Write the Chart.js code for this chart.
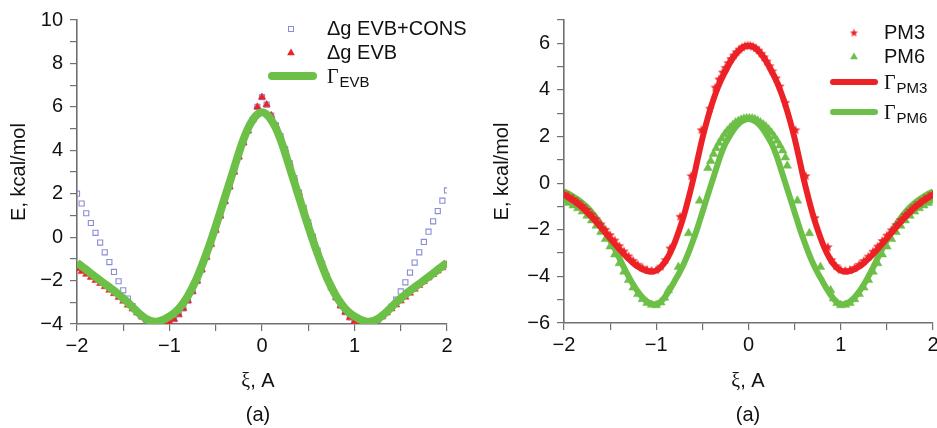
<!DOCTYPE html>
<html lang="en">
<head>
<meta charset="UTF-8">
<title>Free energy profiles</title>
<script src="https://cdn.jsdelivr.net/npm/chart.js@4.4.1/dist/chart.umd.min.js"></script>
<style>
  html, body { margin: 0; padding: 0; background: #fff; }
  body { width: 937px; height: 428px; overflow: hidden; position: relative;
         font-family: "Liberation Sans", Arial, sans-serif; }
  canvas { position: absolute; top: 0; }
  #leftChart { left: 0; }
  #rightChart { left: 470px; }
  .caption { position: absolute; width: 200px; text-align: center; font-size: 20px;
             line-height: 24px; color: #111; }
  .greek { font-family: "Liberation Serif", serif; }
</style>
</head>
<body>
<canvas id="leftChart" width="480" height="428"></canvas>
<canvas id="rightChart" width="480" height="428"></canvas>
<div class="caption" style="left:158px; top:368px"><span class="greek">ξ</span>, A</div>
<div class="caption" style="left:158px; top:402px">(a)</div>
<div class="caption" style="left:648px; top:368px"><span class="greek">ξ</span>, A</div>
<div class="caption" style="left:648px; top:402px">(a)</div>
<script>
// reaction coordinate grid, A
var gridX = [-2, -1.95, -1.9, -1.85, -1.8, -1.75, -1.7, -1.65, -1.6, -1.55, -1.5, -1.45, -1.4, -1.35, -1.3, -1.25, -1.2, -1.15, -1.1, -1.05,
  -1, -0.95, -0.9, -0.85, -0.8, -0.75, -0.7, -0.65, -0.6, -0.55, -0.5, -0.45, -0.4, -0.35, -0.3, -0.25, -0.2, -0.15, -0.1, -0.05,
  0, 0.05, 0.1, 0.15, 0.2, 0.25, 0.3, 0.35, 0.4, 0.45, 0.5, 0.55, 0.6, 0.65, 0.7, 0.75, 0.8, 0.85, 0.9, 0.95,
  1, 1.05, 1.1, 1.15, 1.2, 1.25, 1.3, 1.35, 1.4, 1.45, 1.5, 1.55, 1.6, 1.65, 1.7, 1.75, 1.8, 1.85, 1.9, 1.95, 2];

// left panel, kcal/mol
var gammaEvb = [-1.18, -1.34, -1.5, -1.67, -1.83, -1.99, -2.15, -2.31, -2.47, -2.64, -2.82, -3.01, -3.22, -3.43, -3.62, -3.77, -3.87, -3.9, -3.85, -3.77,
  -3.65, -3.5, -3.3, -3.03, -2.7, -2.3, -1.85, -1.32, -0.75, -0.14, 0.5, 1.17, 1.85, 2.52, 3.2, 3.88, 4.5, 5.02, 5.4, 5.65,
  5.75, 5.65, 5.4, 5.02, 4.5, 3.88, 3.2, 2.52, 1.85, 1.17, 0.5, -0.14, -0.75, -1.32, -1.85, -2.3, -2.7, -3.03, -3.3, -3.5,
  -3.65, -3.77, -3.85, -3.9, -3.87, -3.77, -3.62, -3.43, -3.22, -3.01, -2.82, -2.64, -2.47, -2.31, -2.15, -1.99, -1.83, -1.67, -1.5, -1.34, -1.18];

var dgEvb = [-1.45, -1.58, -1.71, -1.85, -1.99, -2.13, -2.28, -2.44, -2.6, -2.77, -2.95, -3.13, -3.31, -3.48, -3.65, -3.8, -3.92, -4.0, -4.03, -4.01,
  -3.93, -3.78, -3.56, -3.28, -2.92, -2.5, -2.02, -1.5, -0.92, -0.32, 0.32, 0.98, 1.65, 2.32, 3.0, 3.7, 4.35, 4.9, 5.4, 6.0,
  6.45, 6.1, 5.6, 5.15, 4.65, 4.05, 3.4, 2.72, 2.05, 1.35, 0.68, 0.02, -0.62, -1.22, -1.8, -2.32, -2.78, -3.15, -3.45, -3.7,
  -3.88, -3.98, -4.02, -4.0, -3.92, -3.8, -3.65, -3.48, -3.3, -3.12, -2.94, -2.76, -2.58, -2.4, -2.22, -2.05, -1.88, -1.72, -1.56, -1.41, -1.27];

var dgEvbCons = [2.0, 1.55, 1.1, 0.65, 0.2, -0.25, -0.7, -1.15, -1.6, -2.03, -2.45, -2.83, -3.17, -3.45, -3.66, -3.82, -3.93, -4.0, -4.03, -4.01,
  -3.93, -3.78, -3.56, -3.28, -2.92, -2.5, -2.02, -1.5, -0.92, -0.32, 0.32, 0.98, 1.65, 2.32, 3.0, 3.7, 4.35, 4.9, 5.4, 6.0,
  6.45, 6.1, 5.6, 5.15, 4.65, 4.05, 3.4, 2.72, 2.05, 1.35, 0.68, 0.02, -0.62, -1.22, -1.8, -2.32, -2.78, -3.15, -3.45, -3.7,
  -3.88, -3.98, -4.02, -4.0, -3.9, -3.8, -3.65, -3.45, -3.2, -2.88, -2.5, -2.08, -1.63, -1.17, -0.7, -0.22, 0.25, 0.73, 1.2, 1.68, 2.15];

// right panel fitted profiles, kcal/mol
var gammaPm3 = [-0.5, -0.62, -0.75, -0.9, -1.06, -1.25, -1.45, -1.67, -1.9, -2.13, -2.37, -2.6, -2.83, -3.05, -3.25, -3.43, -3.58, -3.7, -3.77, -3.8,
  -3.75, -3.6, -3.35, -3.0, -2.55, -2.0, -1.38, -0.65, 0.15, 1.05, 1.92, 2.68, 3.35, 3.92, 4.4, 4.8, 5.17, 5.47, 5.7, 5.85,
  5.9, 5.85, 5.7, 5.47, 5.17, 4.8, 4.4, 3.92, 3.35, 2.68, 1.92, 1.05, 0.15, -0.65, -1.38, -2.0, -2.55, -3.0, -3.35, -3.6,
  -3.75, -3.8, -3.77, -3.7, -3.58, -3.43, -3.25, -3.05, -2.83, -2.6, -2.37, -2.13, -1.9, -1.67, -1.45, -1.25, -1.06, -0.9, -0.75, -0.62, -0.5];

var gammaPm6 = [-0.35, -0.45, -0.57, -0.7, -0.85, -1.03, -1.25, -1.5, -1.78, -2.1, -2.45, -2.82, -3.22, -3.62, -4.0, -4.35, -4.65, -4.9, -5.08, -5.18,
  -5.2, -5.08, -4.85, -4.55, -4.2, -3.85, -3.45, -2.98, -2.45, -1.88, -1.25, -0.62, 0.0, 0.62, 1.22, 1.7, 2.05, 2.35, 2.57, 2.7,
  2.75, 2.7, 2.57, 2.35, 2.05, 1.7, 1.22, 0.62, 0.0, -0.62, -1.25, -1.88, -2.45, -2.98, -3.45, -3.85, -4.2, -4.55, -4.85, -5.08,
  -5.2, -5.18, -5.08, -4.9, -4.65, -4.35, -4.0, -3.62, -3.22, -2.82, -2.45, -2.1, -1.78, -1.5, -1.25, -1.03, -0.85, -0.7, -0.57, -0.45, -0.35];

// sampled PM3 energies
var pm3X = [-2, -1.95, -1.9, -1.85, -1.8, -1.75, -1.7, -1.65, -1.6, -1.55, -1.5, -1.45, -1.4, -1.35, -1.3, -1.25, -1.2, -1.15, -1.1, -1.05,
  -1, -0.95, -0.9, -0.85, -0.74, -0.62, -0.51, -0.42, -0.36, -0.32, -0.28, -0.25, -0.22, -0.19, -0.16, -0.13, -0.1, -0.07, -0.04, -0.01,
  0.02, 0.05, 0.08, 0.11, 0.14, 0.17, 0.2, 0.23, 0.26, 0.3, 0.34, 0.4, 0.51, 0.62, 0.72, 0.86,
  0.9, 0.95, 1, 1.05, 1.1, 1.15, 1.2, 1.25, 1.3, 1.35, 1.4, 1.45, 1.5, 1.55, 1.6, 1.65, 1.7, 1.75, 1.8, 1.85, 1.9, 1.95, 2];
var pm3Y = [-0.45, -0.57, -0.68, -0.82, -0.98, -1.15, -1.35, -1.55, -1.77, -2.0, -2.23, -2.46, -2.7, -2.93, -3.14, -3.33, -3.5, -3.63, -3.72, -3.76,
  -3.73, -3.58, -3.3, -2.8, -1.44, 0.3, 2.27, 3.2, 4.1, 4.45, 4.75, 4.95, 5.15, 5.33, 5.48, 5.62, 5.73, 5.82, 5.88, 5.9,
  5.9, 5.86, 5.79, 5.69, 5.55, 5.4, 5.22, 5.02, 4.8, 4.5, 4.15, 3.45, 2.27, 0.3, -1.5, -2.75,
  -3.3, -3.56, -3.72, -3.76, -3.73, -3.64, -3.5, -3.34, -3.15, -2.94, -2.72, -2.48, -2.25, -2.02, -1.8, -1.58, -1.37, -1.18, -1.0, -0.85, -0.7, -0.58, -0.46];

// sampled PM6 energies
var pm6X = [-2, -1.95, -1.9, -1.85, -1.8, -1.75, -1.7, -1.65, -1.6, -1.55, -1.5, -1.45, -1.4, -1.35, -1.3, -1.25, -1.2, -1.15, -1.1, -1.05,
  -1, -0.95, -0.91, -0.87, -0.76, -0.65, -0.53,
  -0.44, -0.41, -0.38, -0.35, -0.32, -0.29, -0.26, -0.23, -0.2, -0.17, -0.14, -0.11, -0.08, -0.05, -0.02,
  0.01, 0.04, 0.07, 0.1, 0.13, 0.16, 0.19, 0.22, 0.25, 0.28, 0.31, 0.34, 0.37, 0.4, 0.42,
  0.53, 0.66, 0.78, 0.89,
  0.92, 0.96, 1, 1.05, 1.1, 1.15, 1.2, 1.25, 1.3, 1.35, 1.4, 1.45, 1.5, 1.55, 1.6, 1.65, 1.7, 1.75, 1.8, 1.85, 1.9, 1.95, 2];
var pm6Y = [-0.75, -0.85, -0.96, -1.08, -1.22, -1.4, -1.6, -1.83, -2.1, -2.4, -2.72, -3.06, -3.44, -3.8, -4.16, -4.48, -4.76, -4.98, -5.14, -5.22,
  -5.24, -5.12, -4.92, -4.6, -3.6, -2.15, -0.75,
  0.65, 0.95, 1.25, 1.5, 1.72, 1.92, 2.1, 2.25, 2.38, 2.5, 2.6, 2.67, 2.72, 2.76, 2.78,
  2.78, 2.77, 2.74, 2.68, 2.6, 2.52, 2.42, 2.3, 2.16, 2.0, 1.82, 1.62, 1.4, 1.1, 0.75,
  -0.75, -2.15, -3.6, -4.6,
  -4.95, -5.14, -5.24, -5.22, -5.14, -4.98, -4.76, -4.48, -4.16, -3.8, -3.44, -3.06, -2.72, -2.4, -2.1, -1.83, -1.6, -1.4, -1.22, -1.08, -0.96, -0.85, -0.75];

var RED = '#ec2227';
var GREEN = '#6cbf47';
var BLUE = '#8a8cd4';
var AXIS_GREY = '#707070';

Chart.defaults.font.family = '"Liberation Sans", Arial, sans-serif';
Chart.defaults.font.size = 20;
Chart.defaults.color = '#111';

function toPoints(xs, ys) {
    return xs.map(function (x, i) { return { x: x, y: ys[i] }; });
}

function axisLabel(v) {
    return v < 0 ? '\u2212' + Math.abs(v) : String(v);
}

// small filled five-point star used as a point style
function starImage(radius, color) {
    var size = Math.ceil(radius * 2) + 2;
    var c = document.createElement('canvas');
    c.width = size;
    c.height = size;
    var g = c.getContext('2d');
    g.fillStyle = color;
    g.beginPath();
    for (var i = 0; i < 10; i++) {
        var r = i % 2 === 0 ? radius : radius * 0.45;
        var a = -Math.PI / 2 + i * Math.PI / 5;
        var px = size / 2 + r * Math.cos(a);
        var py = size / 2 + r * Math.sin(a);
        if (i === 0) g.moveTo(px, py); else g.lineTo(px, py);
    }
    g.closePath();
    g.fill();
    return c;
}

var redStar = starImage(5, RED);
var legendStar = starImage(4.2, RED);

function xAxis(height) {
    return {
        type: 'linear', min: -2, max: 2,
        ticks: {
            stepSize: 0.5, autoSkip: false, maxRotation: 0, padding: 3,
            callback: function (v) { return Number.isInteger(v) ? axisLabel(v) : ''; }
        },
        grid: { drawOnChartArea: false, tickLength: 7, color: AXIS_GREY, lineWidth: 1.2 },
        border: { color: AXIS_GREY, width: 1.6 },
        afterFit: function (s) { s.height = height; }
    };
}

function yAxis(min, max, width, titlePad) {
    return {
        type: 'linear', min: min, max: max,
        ticks: {
            stepSize: 1, autoSkip: false, padding: 7,
            callback: function (v) { return v % 2 === 0 ? axisLabel(v) : ''; }
        },
        grid: { drawOnChartArea: false, tickLength: 7, color: AXIS_GREY, lineWidth: 1.2 },
        border: { color: AXIS_GREY, width: 1.6 },
        title: { display: true, text: 'E, kcal/mol', padding: { top: titlePad, bottom: 0 } },
        afterFit: function (s) { s.width = width; }
    };
}

// legend drawn by hand so the Γ labels can carry subscripts
var panelLegend = {
    id: 'panelLegend',
    afterDraw: function (chart, args, opts) {
        var ctx = chart.ctx;
        ctx.save();
        ctx.textBaseline = 'middle';
        opts.items.forEach(function (it) {
            ctx.fillStyle = it.color;
            ctx.strokeStyle = it.color;
            if (it.kind === 'rect') {
                ctx.lineWidth = 1;
                ctx.strokeRect(it.x - 2.5, it.y - 2.5, 5, 5);
            } else if (it.kind === 'triangle') {
                var r = it.r;
                ctx.beginPath();
                ctx.moveTo(it.x, it.y - r);
                ctx.lineTo(it.x + r * 0.866, it.y + r * 0.5);
                ctx.lineTo(it.x - r * 0.866, it.y + r * 0.5);
                ctx.closePath();
                ctx.fill();
            } else if (it.kind === 'star') {
                ctx.drawImage(legendStar, it.x - legendStar.width / 2, it.y - legendStar.height / 2);
            } else if (it.kind === 'line') {
                ctx.lineWidth = it.width;
                ctx.lineCap = 'round';
                ctx.beginPath();
                ctx.moveTo(it.x1, it.y);
                ctx.lineTo(it.x2, it.y);
                ctx.stroke();
            }
            ctx.fillStyle = '#111';
            if (it.sub) {
                ctx.font = '20px "Liberation Serif", serif';
                ctx.fillText('\u0393', opts.textX, it.y + 2);
                var w = ctx.measureText('\u0393').width;
                ctx.font = '15px "Liberation Sans", Arial, sans-serif';
                ctx.fillText(it.sub, opts.textX + w + 1, it.y + 7);
            } else {
                ctx.font = '20px "Liberation Sans", Arial, sans-serif';
                ctx.fillText(it.text, opts.textX, it.y);
            }
        });
        ctx.restore();
    }
};

new Chart(document.getElementById('leftChart'), {
    type: 'scatter',
    data: {
        datasets: [{
            label: 'Γ EVB',
            data: toPoints(gridX, gammaEvb),
            showLine: true, borderColor: GREEN, borderWidth: 8, pointRadius: 0,
            cubicInterpolationMode: 'monotone', order: 1
        }, {
            label: 'Δg EVB',
            data: toPoints(gridX, dgEvb),
            pointStyle: 'triangle', pointRadius: 4.2, backgroundColor: RED, borderColor: RED,
            borderWidth: 0.5, order: 2
        }, {
            label: 'Δg EVB+CONS',
            data: toPoints(gridX, dgEvbCons),
            pointStyle: 'rect', pointRadius: 3.6, backgroundColor: 'rgba(255,255,255,0)',
            borderColor: BLUE, borderWidth: 1.1, order: 3
        }]
    },
    options: {
        responsive: false,
        animation: false,
        layout: { padding: { left: 0, top: 20, right: 33, bottom: 0 } },
        scales: { x: xAxis(104), y: yAxis(-4, 10, 77, 7) },
        plugins: {
            legend: { display: false },
            tooltip: { enabled: false },
            panelLegend: {
                textX: 327,
                items: [
                    { kind: 'rect', x: 291, y: 29, color: BLUE, text: 'Δg EVB+CONS' },
                    { kind: 'triangle', x: 291, y: 53, r: 4.5, color: RED, text: 'Δg EVB' },
                    { kind: 'line', x1: 272, x2: 313, y: 76, width: 8, color: GREEN, sub: 'EVB' }
                ]
            }
        }
    },
    plugins: [panelLegend]
});

new Chart(document.getElementById('rightChart'), {
    type: 'scatter',
    data: {
        datasets: [{
            label: 'PM3',
            data: toPoints(pm3X, pm3Y),
            pointStyle: redStar, order: 1
        }, {
            label: 'Γ PM3',
            data: toPoints(gridX, gammaPm3),
            showLine: true, borderColor: RED, borderWidth: 6, pointRadius: 0,
            cubicInterpolationMode: 'monotone', order: 2
        }, {
            label: 'PM6',
            data: toPoints(pm6X, pm6Y),
            pointStyle: 'triangle', pointRadius: 5, backgroundColor: GREEN, borderColor: GREEN,
            borderWidth: 0.5, order: 3
        }, {
            label: 'Γ PM6',
            data: toPoints(gridX, gammaPm6),
            showLine: true, borderColor: GREEN, borderWidth: 6, pointRadius: 0,
            cubicInterpolationMode: 'monotone', order: 4
        }]
    },
    options: {
        responsive: false,
        animation: false,
        layout: { padding: { left: 0, top: 20, right: 17, bottom: 0 } },
        scales: { x: xAxis(105), y: yAxis(-6, 7, 94, 20) },
        plugins: {
            legend: { display: false },
            tooltip: { enabled: false },
            panelLegend: {
                textX: 414,
                items: [
                    { kind: 'star', x: 384, y: 33, color: RED, text: 'PM3' },
                    { kind: 'triangle', x: 384, y: 57, r: 4.5, color: GREEN, text: 'PM6' },
                    { kind: 'line', x1: 363, x2: 405, y: 82, width: 6, color: RED, sub: 'PM3' },
                    { kind: 'line', x1: 363, x2: 405, y: 112, width: 6, color: GREEN, sub: 'PM6' }
                ]
            }
        }
    },
    plugins: [panelLegend]
});
</script>
</body>
</html>
